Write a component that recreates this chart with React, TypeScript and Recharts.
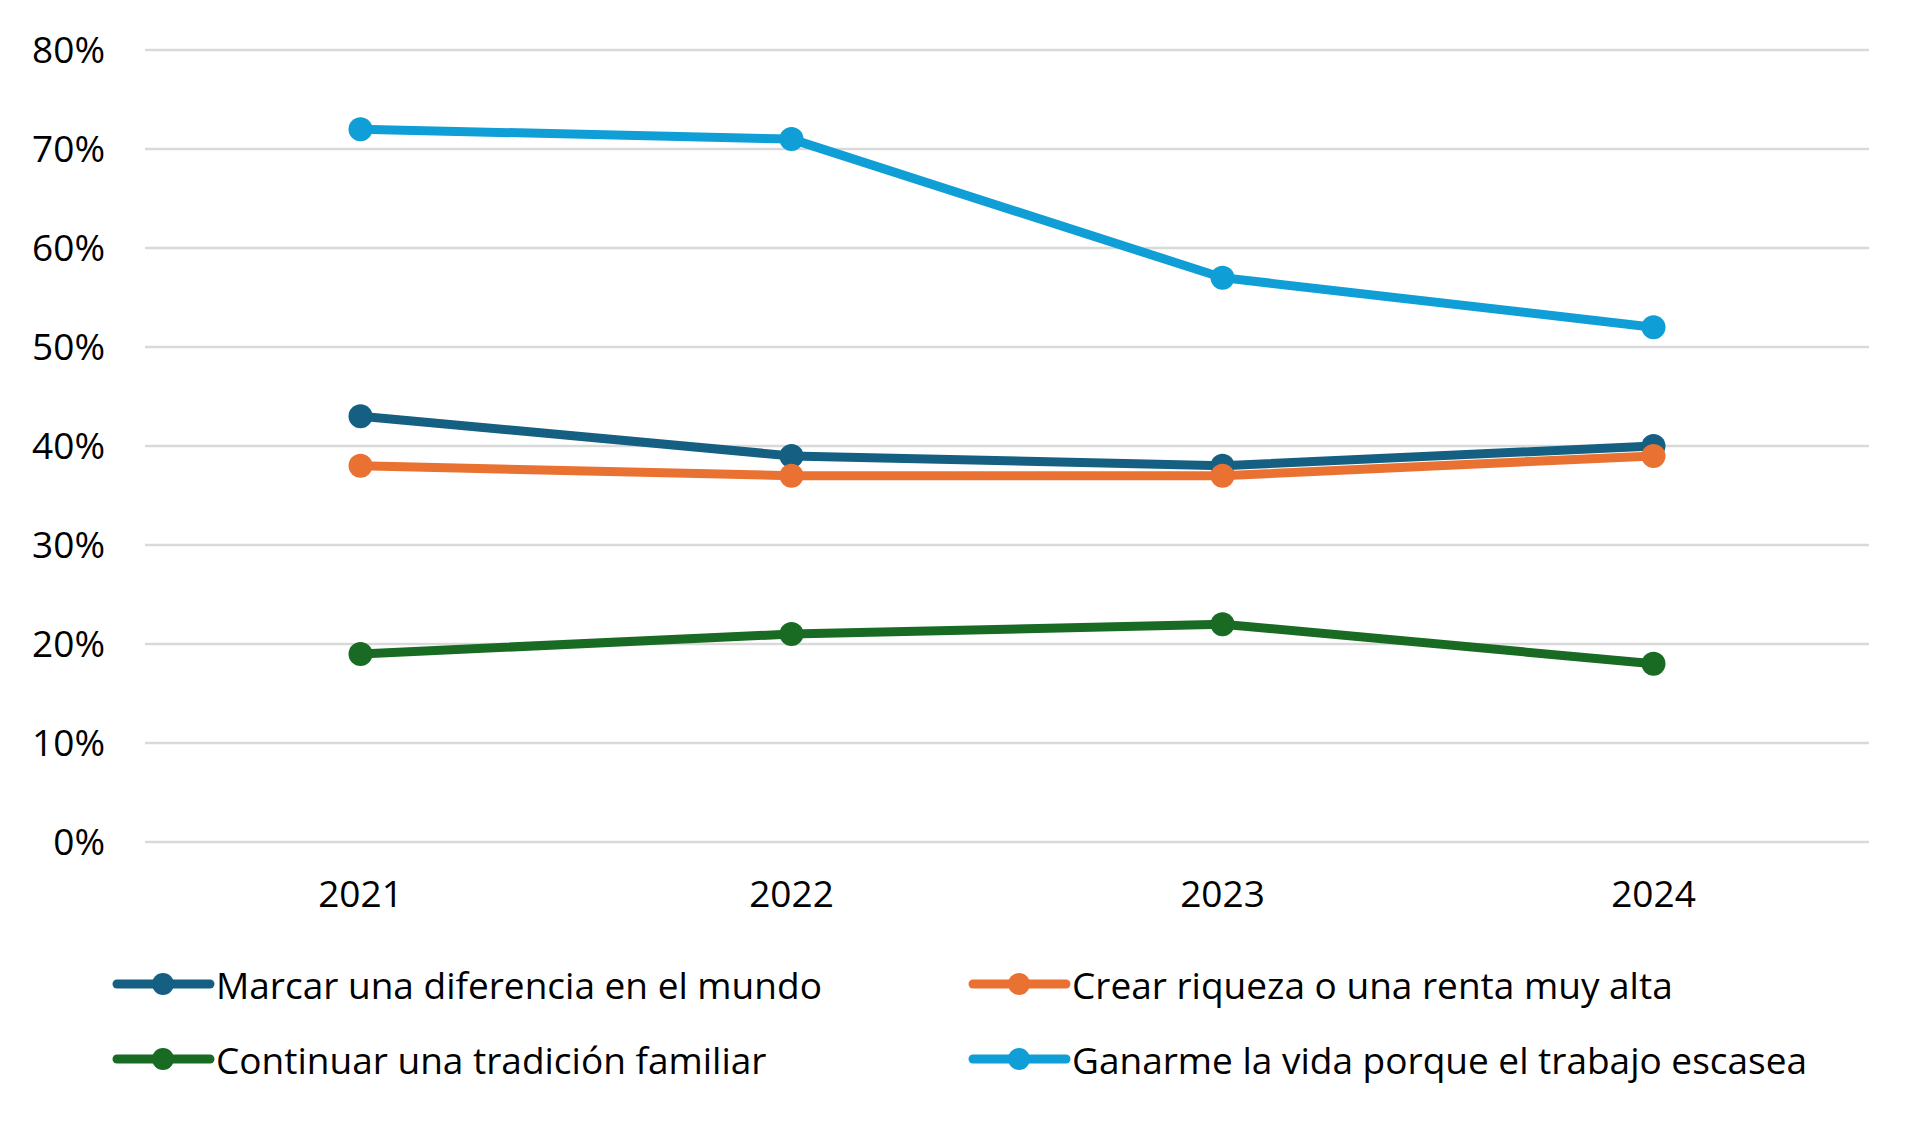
import React from 'react';
import { LineChart, Line, XAxis, YAxis, CartesianGrid } from 'recharts';

const years = ['2021', '2022', '2023', '2024'];
const marcar = [0.43, 0.39, 0.38, 0.4];
const crear = [0.38, 0.37, 0.37, 0.39];
const continuar = [0.19, 0.21, 0.22, 0.18];
const ganarme = [0.72, 0.71, 0.57, 0.52];
const yTicks = [0, 0.1, 0.2, 0.3, 0.4, 0.5, 0.6, 0.7, 0.8];

const series = [
  { key: 'marcar', name: 'Marcar una diferencia en el mundo', color: '#156082', values: marcar },
  { key: 'crear', name: 'Crear riqueza o una renta muy alta', color: '#E97132', values: crear },
  { key: 'continuar', name: 'Continuar una tradición familiar', color: '#196B24', values: continuar },
  { key: 'ganarme', name: 'Ganarme la vida porque el trabajo escasea', color: '#0F9ED5', values: ganarme },
];

const data = years.map((year, i) => {
  const row: { [k: string]: string | number } = { year };
  series.forEach((s) => {
    row[s.key] = s.values[i];
  });
  return row;
});

const font = '"Open Sans", Arial, sans-serif';

const LegendItem = ({ name, color }: { name: string; color: string }) => (
  <div style={{ display: 'flex', alignItems: 'center', height: 40 }}>
    <svg width={104} height={30} style={{ flex: 'none' }}>
      <line x1={5} y1={15} x2={98} y2={15} stroke={color} strokeWidth={9} strokeLinecap="round" />
      <circle cx={51} cy={15} r={11} fill={color} />
    </svg>
    <span style={{ fontSize: 37, color: '#000', whiteSpace: 'nowrap' }}>{name}</span>
  </div>
);

export default function App() {
  return (
    <div style={{ position: 'absolute', left: 0, top: 0, width: 1920, height: 1121, background: '#fff', fontFamily: font }}>
      <LineChart width={1920} height={930} data={data} margin={{ top: 50, right: 51, left: 0, bottom: 0 }}>
        <CartesianGrid vertical={false} stroke="#D9D9D9" strokeWidth={2.5} />
        <XAxis
          dataKey="year"
          scale="band"
          axisLine={false}
          tickLine={false}
          tickSize={0}
          tickMargin={39}
          height={88}
          tick={{ fill: '#000', fontSize: 37, fontFamily: font }}
        />
        <YAxis
          domain={[0, 0.8]}
          ticks={yTicks}
          tickFormatter={(v: number) => `${Math.round(v * 100)}%`}
          axisLine={false}
          tickLine={false}
          tickSize={0}
          tickMargin={40}
          width={145}
          tick={{ fill: '#000', fontSize: 37, fontFamily: font }}
        />
        {series.map((s) => (
          <Line
            key={s.key}
            dataKey={s.key}
            name={s.name}
            stroke={s.color}
            strokeWidth={9}
            dot={{ r: 12, fill: s.color, stroke: 'none' }}
            activeDot={false}
            isAnimationActive={false}
          />
        ))}
      </LineChart>
      <div
        style={{
          position: 'absolute',
          left: 112,
          top: 964,
          display: 'grid',
          gridTemplateColumns: '856px 856px',
          rowGap: 35,
        }}
      >
        {series.map((s) => (
          <LegendItem key={s.key} name={s.name} color={s.color} />
        ))}
      </div>
    </div>
  );
}
